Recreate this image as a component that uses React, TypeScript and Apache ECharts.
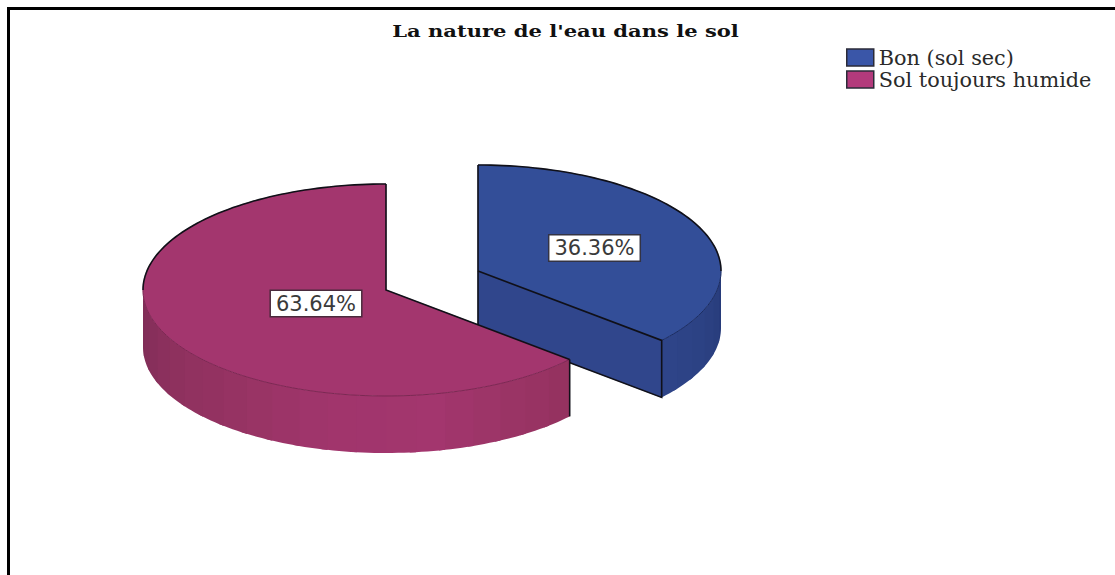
import React, { useEffect, useRef } from "react";
import * as echarts from "echarts";

const titleText = "La nature de l'eau dans le sol";
const categories = ["Bon (sol sec)", "Sol toujours humide"];
const percentValues = [36.36, 63.64];
const percentLabels = ["36.36%", "63.64%"];

const RX = 243;
const RY = 106;
const DEPTH = 57;
const OUTLINE = "#101018";

type Pt = [number, number];

const sliceStyles = [
  {
    cx: 478, cy: 271, label: [594.5, 248] as Pt,
    top: "#334E98", cut: "#30468C", legend: "#3A56A8", rim: "#1C2C60", labelBorder: "#333344",
    // wall shade: [angle in degrees clockwise from 12 o'clock, colour]
    wall: [[90, "#263A78"], [105, "#2A3F80"], [120, "#2D4386"], [131, "#2F4589"]] as [number, string][],
  },
  {
    cx: 386, cy: 290, label: [316, 303.5] as Pt,
    top: "#A3366E", cut: "#8F3260", legend: "#B33A7C", rim: "#7C2853", labelBorder: "#4A2A3C",
    wall: [[131, "#94325F"], [150, "#9B3466"], [170, "#A3366E"], [195, "#A0356C"], [220, "#953362"], [245, "#8C305D"], [270, "#7E2D56"]] as [number, string][],
  },
];

const total = percentValues.reduce((a, b) => a + b, 0);

function pt(cx: number, cy: number, deg: number): Pt {
  const r = (deg * Math.PI) / 180;
  return [cx + RX * Math.sin(r), cy - RY * Math.cos(r)];
}
function arc(cx: number, cy: number, from: number, to: number): Pt[] {
  const out: Pt[] = [];
  const n = Math.max(2, Math.ceil(Math.abs(to - from) / 1.5));
  for (let i = 0; i <= n; i++) out.push(pt(cx, cy, from + ((to - from) * i) / n));
  return out;
}
function hexToRgb(h: string) {
  return [1, 3, 5].map((i) => parseInt(h.slice(i, i + 2), 16));
}
function wallColor(stops: [number, string][], a: number) {
  for (let i = 0; i < stops.length - 1; i++) {
    const [a0, c0] = stops[i];
    const [a1, c1] = stops[i + 1];
    if (a <= a1) {
      const t = Math.max(0, (a - a0) / (a1 - a0));
      const x = hexToRgb(c0);
      const y = hexToRgb(c1);
      return `rgb(${x.map((v, k) => Math.round(v + (y[k] - v) * t)).join(",")})`;
    }
  }
  return stops[stops.length - 1][1];
}

function sliceAngles(i: number): [number, number] {
  const before = percentValues.slice(0, i).reduce((a, b) => a + b, 0);
  return [(before / total) * 360, ((before + percentValues[i]) / total) * 360];
}

function renderSlice(i: number) {
  return (_params: any, _api: any) => {
    const s = sliceStyles[i];
    const [start, end] = sliceAngles(i);
    const { cx, cy } = s;
    const children: any[] = [];
    const fill = (points: Pt[], color: string, w = 0.5) =>
      children.push({ type: "polygon", shape: { points }, style: { fill: color, stroke: color, lineWidth: w } });
    const line = (points: Pt[], color: string, w: number) =>
      children.push({ type: "polyline", shape: { points }, style: { fill: "none", stroke: color, lineWidth: w } });

    // the part of the rim that faces the viewer
    const wallFrom = Math.max(start, 90);
    const wallTo = Math.min(end, 270);
    const STRIP = 7;
    for (let a = wallFrom; a < wallTo; a += STRIP) {
      const b = Math.min(a + STRIP, wallTo);
      // each strip runs on under the next one, so no seam shows
      const upper = arc(cx, cy, a, Math.min(b + 1.5, wallTo));
      const lower = upper.map(([x, y]) => [x, y + DEPTH] as Pt).reverse();
      fill([...upper, ...lower], wallColor(s.wall, (a + b) / 2), 0);
    }

    const c: Pt = [cx, cy];
    const pStart = pt(cx, cy, start);
    const pEnd = pt(cx, cy, end);

    if (i === 0) {
      // cut face that is visible on the first slice
      const lowerCut: Pt[] = [[pEnd[0], pEnd[1] + DEPTH], [cx, cy + DEPTH]];
      fill([c, pEnd, ...lowerCut], s.cut);
    }

    // top face
    fill([c, ...arc(cx, cy, start, end)], s.top);

    if (i === 0) {
      line([pStart, [cx, cy + DEPTH]], OUTLINE, 1.6);
      line(arc(cx, cy, start, 90), OUTLINE, 1.6);
      line(arc(cx, cy, 90, end), s.rim, 1);
      line([c, pEnd, [pEnd[0], pEnd[1] + DEPTH], [cx, cy + DEPTH]], OUTLINE, 1.6);
    } else {
      line(arc(cx, cy, start, 270), s.rim, 1);
      line(arc(cx, cy, 270, 360), OUTLINE, 1.6);
      line([pEnd, c, pStart], OUTLINE, 1.6);
      line([pStart, [pStart[0], pStart[1] + DEPTH]], OUTLINE, 1.6);
    }

    children.push({
      type: "text",
      z2: 10,
      style: {
        text: percentLabels[i],
        x: s.label[0],
        y: s.label[1],
        align: "center",
        verticalAlign: "middle",
        fontFamily: "DejaVu Sans",
        fontSize: 21,
        fill: "#3a3a3a",
        backgroundColor: "#ffffff",
        borderColor: s.labelBorder,
        borderWidth: 1.5,
        padding: [3, 5, 1, 5],
      },
    });
    return { type: "group", children };
  };
}

export default function App() {
  const ref = useRef<HTMLDivElement>(null);
  useEffect(() => {
    const chart = echarts.init(ref.current!, null, { renderer: "svg" });
    chart.setOption({
      animation: false,
      backgroundColor: "#ffffff",
      legend: {
        orient: "vertical",
        left: 846,
        top: 47,
        itemWidth: 27,
        itemHeight: 17,
        itemGap: 1,
        padding: 0,
        icon: "rect",
        textStyle: { fontFamily: "DejaVu Serif", fontSize: 20.8, color: "#2a2a2a", lineHeight: 17 },
        data: categories.map((name, i) => ({
          name,
          itemStyle: { color: sliceStyles[i].legend, borderColor: "#2b2b38", borderWidth: 1.5 },
        })),
      },
      graphic: [
        { type: "line", shape: { x1: 8.5, y1: 8.5, x2: 1115, y2: 8.5 }, style: { stroke: "#000000", lineWidth: 3 } },
        { type: "line", shape: { x1: 8.5, y1: 7, x2: 8.5, y2: 575 }, style: { stroke: "#000000", lineWidth: 3 } },
        {
          type: "text",
          x: 565.5,
          y: 31,
          scaleX: 1.24,
          style: {
            text: titleText,
            align: "center",
            verticalAlign: "middle",
            fontFamily: "DejaVu Serif",
            fontWeight: "bold",
            fontSize: 17,
            fill: "#111111",
          },
        },
      ],
      series: categories.map((name, i) => ({
        type: "custom",
        name,
        coordinateSystem: "none",
        z: 2 + i,
        silent: true,
        itemStyle: { color: sliceStyles[i].legend },
        data: [percentValues[i]],
        renderItem: renderSlice(i),
      })),
    });
    return () => chart.dispose();
  }, []);
  return (
    <div
      ref={ref}
      style={{ position: "absolute", left: 0, top: 0, width: 1115, height: 575, overflow: "hidden" }}
    />
  );
}
